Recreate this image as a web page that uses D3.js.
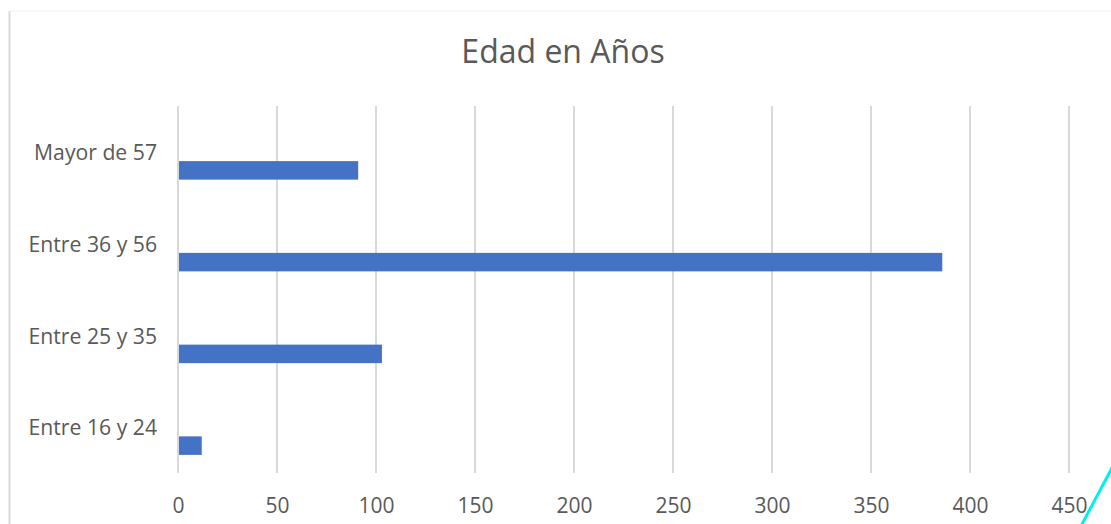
<!DOCTYPE html>
<html><head><meta charset="utf-8">
<script src="https://cdn.jsdelivr.net/npm/d3@7"></script>
<style>html,body{margin:0;padding:0;background:#fff;}svg{display:block;}</style>
</head><body>
<svg id="chart" width="1111" height="524"></svg>
<script>
const categories = ["Mayor de 57", "Entre 36 y 56", "Entre 25 y 35", "Entre 16 y 24"];
const values = [91, 386, 103, 12];
const tickValues = [0, 50, 100, 150, 200, 250, 300, 350, 400, 450];
const seriesSlots = ["s3", "s2", "s1"]; // s1 = drawn series (bottom slot)
const title = "Edad en Años";

const svg = d3.select("#chart");
const font = "'Segoe UI','Open Sans','Noto Sans',sans-serif";
const m = {left: 178, right: 1111 - 1069, top: 106, bottom: 524 - 473};
const W = 1111, H = 524;

// frame
svg.append("line").attr("x1", 9.5).attr("x2", 9.5).attr("y1", 11).attr("y2", H)
  .attr("stroke", "#d9d9d9").attr("stroke-width", 2);
svg.append("line").attr("x1", 9).attr("x2", W).attr("y1", 11).attr("y2", 11)
  .attr("stroke", "#f0f0f0").attr("stroke-width", 1);

const x = d3.scaleLinear().domain([0, 450]).range([m.left, W - m.right]);
const y = d3.scaleBand().domain(categories).range([m.top, H - m.bottom]).padding(0);
const barH = 18.5;
const inner = d3.scaleBand().domain(seriesSlots)
  .range([y.bandwidth() / 2 - 1.5 * barH, y.bandwidth() / 2 + 1.5 * barH]);

// gridlines
svg.append("g").selectAll("line").data(tickValues).join("line")
  .attr("x1", d => Math.round(x(d))).attr("x2", d => Math.round(x(d)))
  .attr("y1", m.top).attr("y2", H - m.bottom)
  .attr("stroke", "#d9d9d9").attr("stroke-width", 2);

// bars
svg.append("g").selectAll("rect").data(categories).join("rect")
  .attr("x", x(0) + 1)
  .attr("y", d => y(d) + inner("s1"))
  .attr("width", (d, i) => x(values[i]) - x(0) - 1)
  .attr("height", inner.bandwidth())
  .attr("fill", "#4472c4");

// x axis labels
const xAxis = d3.axisBottom(x).tickValues(tickValues).tickSize(0).tickPadding(0);
const gx = svg.append("g").attr("transform", `translate(0,${H - m.bottom + 25})`).call(xAxis);
gx.select(".domain").remove();
gx.selectAll("text").attr("font-family", font).attr("font-size", 21).attr("fill", "#595959")
  .attr("dy", "0.71em");

// y axis labels
const yAxis = d3.axisLeft(y).tickSize(0).tickPadding(21);
const gy = svg.append("g").attr("transform", `translate(${m.left},1.5)`).call(yAxis);
gy.select(".domain").remove();
gy.selectAll("text").attr("font-family", font).attr("font-size", 21.2).attr("fill", "#595959");

// title
svg.append("text").attr("x", 563).attr("y", 63).attr("text-anchor", "middle")
  .attr("font-family", font).attr("font-size", 32).attr("fill", "#595959").text(title);

// cyan annotation stroke
svg.append("path").attr("d", d3.line()([[1081, 526], [1113, 466]]))
  .attr("stroke", "#00f0f0").attr("stroke-width", 3).attr("fill", "none");
</script>
</body></html>
